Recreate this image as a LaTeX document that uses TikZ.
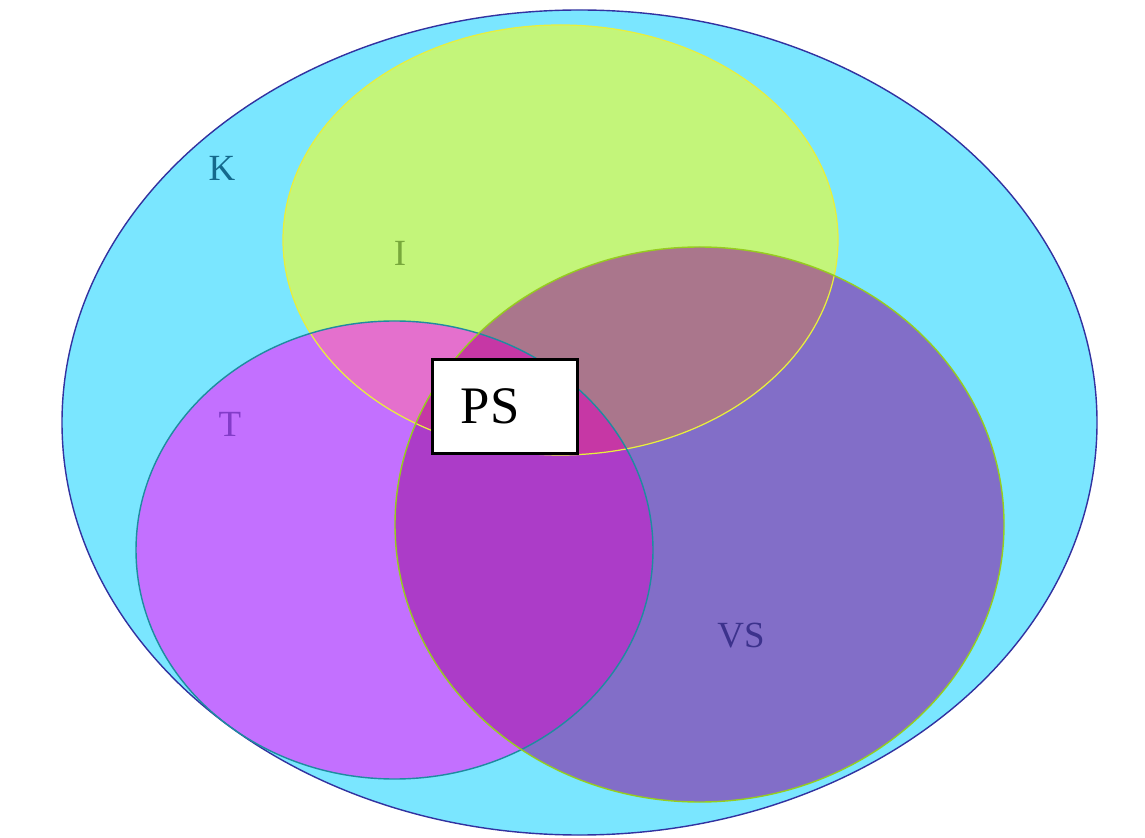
\documentclass[tikz,border=0pt]{standalone}
\usepackage{fontspec}
\setmainfont{Liberation Serif}
\definecolor{kfill}{RGB}{122,230,255}
\definecolor{ifill}{RGB}{195,245,122}
\definecolor{tfill}{RGB}{195,112,255}
\definecolor{vsfill}{RGB}{130,110,200}
\definecolor{itfill}{RGB}{228,112,205}
\definecolor{ivsfill}{RGB}{170,118,140}
\definecolor{tvsfill}{RGB}{172,60,200}
\definecolor{itvsfill}{RGB}{198,55,165}
\definecolor{kline}{RGB}{50,50,160}
\definecolor{iline}{RGB}{232,240,60}
\definecolor{tline}{RGB}{30,140,160}
\definecolor{vsline}{RGB}{150,205,30}
\definecolor{ktext}{RGB}{20,105,140}
\definecolor{itext}{RGB}{120,168,60}
\definecolor{ttext}{RGB}{130,60,200}
\definecolor{vstext}{RGB}{60,50,140}
\tikzset{
  setlabel/.style={font=\fontsize{21}{21}\selectfont},
  psbox/.style={draw=black, line width=2pt, fill=white, minimum width=2.9cm, minimum height=1.88cm, inner sep=0pt, font=\fontsize{30}{30}\selectfont}
}

\begin{document}
\begin{tikzpicture}
	%%%%% START %%%%%
	
	\useasboundingbox (0, 0) rectangle (22.9, 16.74);
	
	\fill[kfill] (11.59, 8.29) ellipse (10.35 and 8.25);
	\fill[ifill] (11.21, 11.94) ellipse (5.55 and 4.3);
	\fill[tfill] (7.89, 5.74) ellipse (5.17 and 4.58);
	\fill[vsfill] (13.99, 6.25) ellipse (6.09 and 5.55);
	
	% overlaps
	\begin{scope}
		\clip (7.89, 5.74) ellipse (5.17 and 4.58);
		\fill[tvsfill] (13.99, 6.25) ellipse (6.09 and 5.55);
	\end{scope}
	\begin{scope}
		\clip (11.21, 11.94) ellipse (5.55 and 4.3);
		\fill[itfill] (7.89, 5.74) ellipse (5.17 and 4.58);
		\fill[ivsfill] (13.99, 6.25) ellipse (6.09 and 5.55);
		\clip (7.89, 5.74) ellipse (5.17 and 4.58);
		\fill[itvsfill] (13.99, 6.25) ellipse (6.09 and 5.55);
	\end{scope}
	
	% outlines
	\draw[line width=0.8pt, kline] (11.59, 8.29) ellipse (10.35 and 8.25);
	\draw[line width=0.7pt, iline] (11.21, 11.94) ellipse (5.55 and 4.3);
	\draw[line width=0.8pt, tline] (7.89, 5.74) ellipse (5.17 and 4.58);
	\draw[line width=0.8pt, vsline] (13.99, 6.25) ellipse (6.09 and 5.55);
	
	\node[setlabel, ktext] (k) at (4.44, 13.38) {K};
	\node[setlabel, itext] (i) at (8.0, 11.68) {I};
	\node[setlabel, ttext] (t) at (4.6, 8.26) {T};
	\node[setlabel, vstext] (vs) at (14.82, 4.02) {VS};
	
	\node[psbox] (ps) at (10.1, 8.61) {PS\kern0.6cm};
	
	%%%%% END %%%%%
\end{tikzpicture}
\end{document}
